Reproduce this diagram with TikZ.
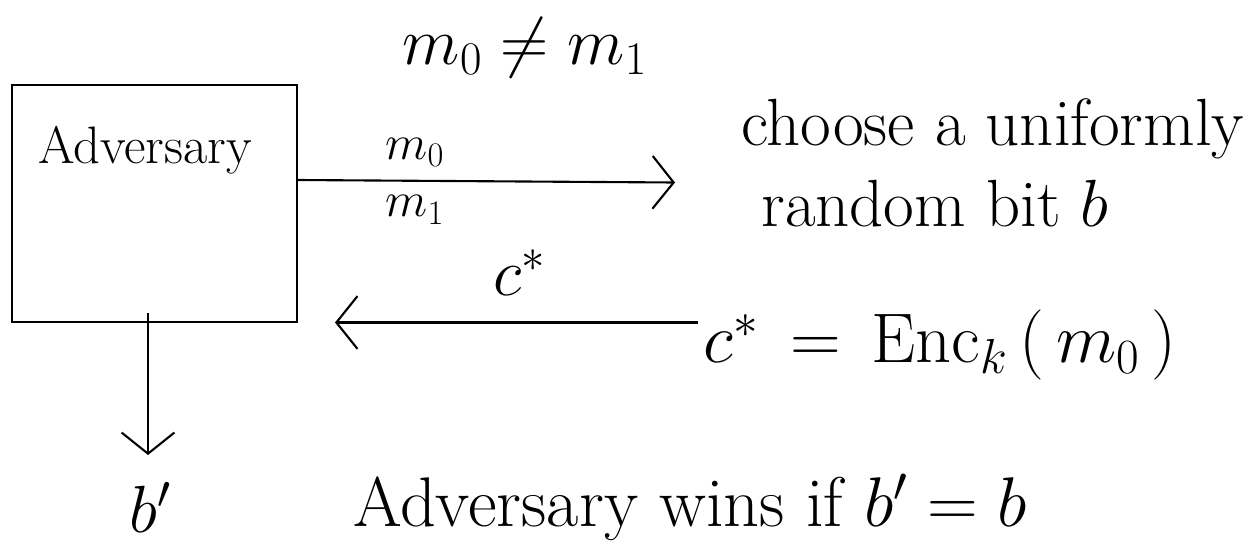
\RequirePackage{fix-cm}
\documentclass[tikz,border=0pt]{standalone}
\usepackage{amsmath}
\usepackage{tikz}
\usetikzlibrary{arrows.meta}

\begin{document}
\begin{tikzpicture}[
        txt/.style={font=\fontsize{38}{46}\selectfont},
        big/.style={font=\fontsize{40}{48}\selectfont},
        lbl/.style={font=\fontsize{28}{32}\selectfont},
        arr/.style={line width=1.2pt, -{Straight Barb[length=12pt, width=30pt, line width=1.2pt]}}
    ]
        \useasboundingbox (0,0) rectangle (25.04,-10.88);

        \node[draw, line width=1.2pt, minimum width=5.7cm, minimum height=4.74cm] (adv) at (3.09,-4.07) {};
        \node[font=\fontsize{30}{36}\selectfont] (advtext) at (2.9,-3.0) {Adversary};
        \node[txt] (neq) at (10.5,-0.95) {$m_0 \neq m_1$};
        \node[txt, align=left, anchor=west] (choose) at (14.7,-3.25) {choose a uniformly\\ \ random bit $b$};
        \node[big, anchor=west] (enc) at (13.95,-6.9) {$c^* \,=\, \mathrm{Enc}_k\,(\,m_0\,)$};
        \node[txt] (bout) at (3.0,-10.15) {$b'$};
        \node[big] (win) at (13.8,-10.15) {Adversary wins if $b' = b$};

        \coordinate (chl) at (13.5,-3.65);
        \coordinate (out) at (6.7,-6.45);
        \coordinate (bin) at (2.96,-9.1);

        \draw[arr] (adv.east |- 0,-3.6) -- (chl);
        \node[lbl] (m0) at (8.3,-3.05) {$m_0$};
        \node[lbl] (m1) at (8.3,-4.2) {$m_1$};

        \draw[arr] (enc.west |- 0,-6.45) -- (out);
        \node[txt] (cstar) at (10.4,-5.45) {$c^*$};

        \draw[arr] (adv.south -| bin) ++(0,0.2) -- (bin);
\end{tikzpicture}
\end{document}
